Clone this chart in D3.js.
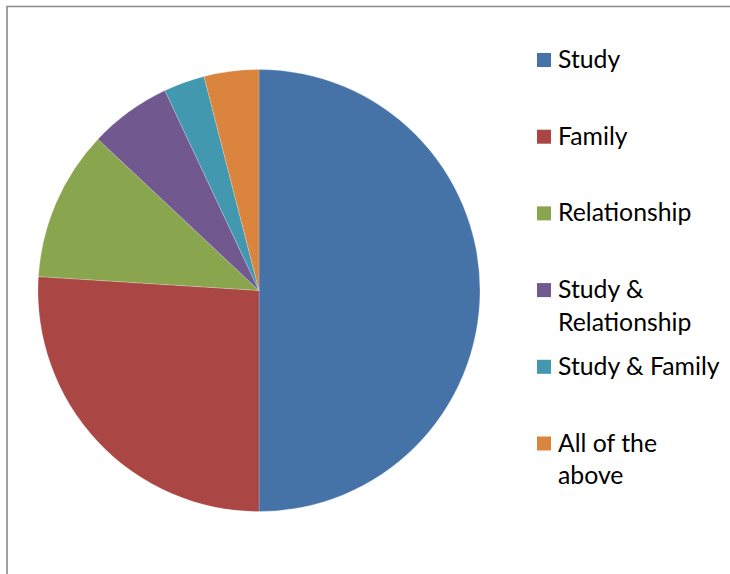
<!DOCTYPE html>
<html>
<head>
<meta charset="utf-8">
<script src="https://cdn.jsdelivr.net/npm/d3@7"></script>
<style>
  html, body { margin: 0; padding: 0; background: #fff; }
  svg { display: block; }
</style>
</head>
<body>
<div id="chart"></div>
<script>
// Sources of stress reported by respondents (share of responses)
const categories = ["Study", "Family", "Relationship", "Study & Relationship", "Study & Family", "All of the above"];
const values = [50, 26, 11, 6, 3, 4];
const colors = ["#4572A7", "#AA4643", "#89A54E", "#71588F", "#4198AF", "#DB843D"];
// Legend text broken into lines as shown in the key
const legendLines = [["Study"], ["Family"], ["Relationship"], ["Study &", "Relationship"], ["Study & Family"], ["All of the", "above"]];

const width = 730, height = 574;
const cx = 259, cy = 290.5, radius = 221;

const svg = d3.select("#chart").append("svg")
  .attr("width", width)
  .attr("height", height);

// Chart frame (only top and left edges fall inside the view)
svg.append("path")
  .attr("d", `M7,${height} V6.5 H${width}`)
  .attr("fill", "none")
  .attr("stroke", "#8a8a8a")
  .attr("stroke-width", 1.6);

const data = categories.map((c, i) => ({ name: c, value: values[i], color: colors[i], lines: legendLines[i] }));

const pie = d3.pie().value(d => d.value).sort(null);
const arc = d3.arc().innerRadius(0).outerRadius(radius);

svg.append("g")
  .attr("transform", `translate(${cx},${cy})`)
  .selectAll("path")
  .data(pie(data))
  .join("path")
  .attr("d", arc)
  .attr("fill", d => d.data.color)
  .attr("stroke", "#ffffff")
  .attr("stroke-opacity", 0.4)
  .attr("stroke-width", 0.5);

// Legend
const legendX = 537, legendTop = 68, itemStep = 76.7, lineStep = 32.5;
const legend = svg.append("g")
  .attr("font-family", "Lato, 'Open Sans', sans-serif")
  .attr("font-size", 24.8)
  .attr("fill", "#000");

const items = legend.selectAll("g")
  .data(data)
  .join("g")
  .attr("transform", (d, i) => `translate(${legendX},${legendTop + i * itemStep})`);

items.append("rect")
  .attr("x", 0)
  .attr("y", -15)
  .attr("width", 14)
  .attr("height", 14)
  .attr("fill", d => d.color);

items.append("text")
  .attr("x", 21)
  .selectAll("tspan")
  .data(d => d.lines)
  .join("tspan")
  .attr("x", 21)
  .attr("y", (l, j) => j * lineStep)
  .text(l => l);
</script>
</body>
</html>
